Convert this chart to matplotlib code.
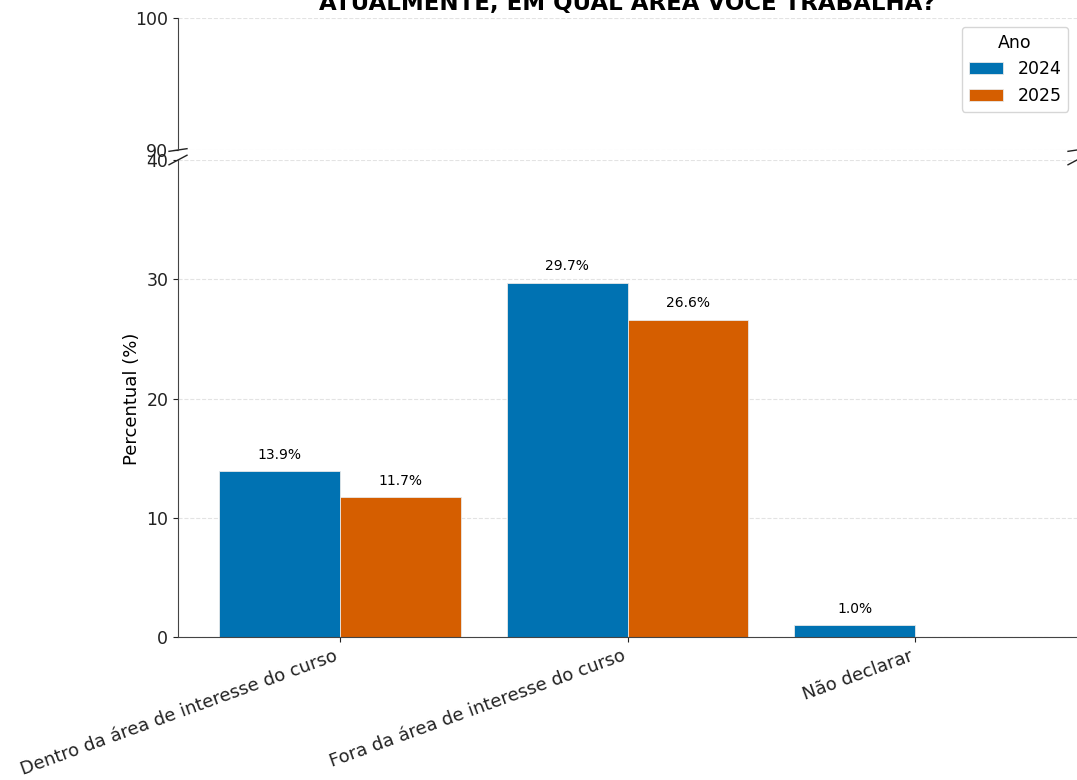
import numpy as np
import matplotlib
matplotlib.use("Agg")
import matplotlib.pyplot as plt

categorias = ["Dentro da área de interesse do curso", "Fora da área de interesse do curso", "Não declarar"]
anos = ["2024", "2025"]
valores_2024 = [13.9, 29.7, 1.0]
valores_2025 = [11.7, 26.6, 0.0]
cores = ["#0072B2", "#D55E00"]

fig = plt.figure(figsize=(10.77, 7.8), dpi=100)
ax_top = fig.add_axes([178 / 1077, 1 - 150 / 780, 1 - 178 / 1077, 132 / 780])
ax_bot = fig.add_axes([178 / 1077, 1 - 637 / 780, 1 - 178 / 1077, 477 / 780], sharex=ax_top)

x = np.arange(len(categorias))
w = 0.42
for ax in (ax_top, ax_bot):
    ax.bar(x - w / 2, valores_2024, w, color=cores[0], edgecolor="#e8e8e8", linewidth=0.6, label=anos[0])
    ax.bar(x + w / 2, valores_2025, w, color=cores[1], edgecolor="#e8e8e8", linewidth=0.6, label=anos[1])
    ax.grid(axis="y", linestyle="--", color="#dddddd", linewidth=0.8, alpha=0.8)
    ax.set_axisbelow(True)
    ax.spines["top"].set_visible(False)
    ax.spines["right"].set_visible(False)
    ax.spines["left"].set_color("#444444")
    ax.spines["bottom"].set_color("#444444")
    ax.tick_params(labelsize=12.5, colors="#222222")

ax_top.set_ylim(90, 100)
ax_top.set_yticks([90, 100])
ax_bot.set_ylim(0, 40)
ax_bot.set_yticks([0, 10, 20, 30, 40])
ax_top.spines["bottom"].set_visible(False)
ax_top.tick_params(axis="x", bottom=False, labelbottom=False)

# rótulos de valor
for xi, v in zip(x - w / 2, valores_2024):
    if v > 0:
        ax_bot.text(xi, v + 0.8, f"{v:.1f}%", ha="center", va="bottom", fontsize=10)
for xi, v in zip(x + w / 2, valores_2025):
    if v > 0:
        ax_bot.text(xi, v + 0.8, f"{v:.1f}%", ha="center", va="bottom", fontsize=10)

ax_bot.set_xticks(x)
ax_bot.set_xticklabels(categorias, rotation=20, ha="right", fontsize=13)
ax_bot.set_ylabel("Percentual (%)", fontsize=13)

# marcas de quebra
d = 0.01
kw = dict(color="#222222", clip_on=False, linewidth=1)
ax_top.plot((-d, +d), (-d, +d), transform=ax_top.transAxes, **kw)
ax_top.plot((1 - d, 1 + d), (-d, +d), transform=ax_top.transAxes, **kw)
ax_bot.plot((-d, +d), (1 - d, 1 + d), transform=ax_bot.transAxes, **kw)
ax_bot.plot((1 - d, 1 + d), (1 - d, 1 + d), transform=ax_bot.transAxes, **kw)

ax_top.set_title("ATUALMENTE, EM QUAL ÁREA VOCÊ TRABALHA?", fontsize=16.5, fontweight="bold")
ax_top.legend(title="Ano", loc="upper right", fontsize=12.5, title_fontsize=12.5)

fig.savefig("out.png", dpi=100)
